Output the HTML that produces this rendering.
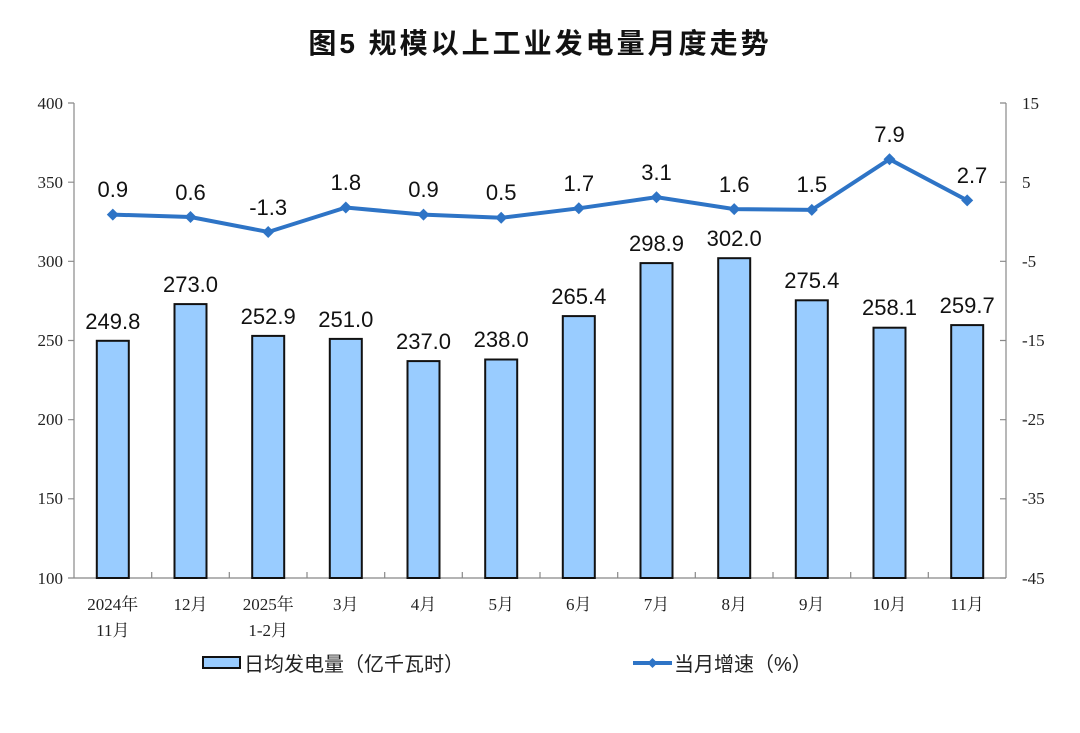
<!DOCTYPE html>
<html><head><meta charset="utf-8"><style>body{margin:0;background:#fff}</style></head><body>
<svg width="1080" height="728" xmlns="http://www.w3.org/2000/svg">
<rect width="1080" height="728" fill="#fff"/>
<text x="540" y="53" text-anchor="middle" font-family="Liberation Sans,Noto Sans CJK SC,sans-serif" font-size="28" font-weight="bold" letter-spacing="3" fill="#111">图5  规模以上工业发电量月度走势</text>
<g stroke="#888" stroke-width="1.2" fill="none">
<line x1="74" y1="103" x2="74" y2="578"/><line x1="74" y1="578" x2="1006" y2="578"/><line x1="1006" y1="103" x2="1006" y2="578"/>
<path d="M68 103H74M68 182.2H74M68 261.3H74M68 340.5H74M68 419.7H74M68 498.8H74M68 578H74"/>
<path d="M1000 103H1006M1000 182.2H1006M1000 261.3H1006M1000 340.5H1006M1000 419.7H1006M1000 498.8H1006M1000 578H1006"/>
<path d="M151.7 578V572M229.3 578V572M307 578V572M384.7 578V572M462.3 578V572M540 578V572M617.7 578V572M695.3 578V572M773 578V572M850.7 578V572M928.3 578V572"/>
</g>
<g font-family="Liberation Serif,serif" font-size="17" fill="#222" text-anchor="end">
<text x="63" y="109">400</text><text x="63" y="188">350</text><text x="63" y="267">300</text><text x="63" y="346">250</text><text x="63" y="425">200</text><text x="63" y="504">150</text><text x="63" y="584">100</text>
</g>
<g font-family="Liberation Serif,serif" font-size="17" fill="#222">
<text x="1022" y="109">15</text><text x="1022" y="188">5</text><text x="1022" y="267">-5</text><text x="1022" y="346">-15</text><text x="1022" y="425">-25</text><text x="1022" y="504">-35</text><text x="1022" y="584">-45</text>
</g>
<g fill="#99ccff" stroke="#111" stroke-width="2">
<rect x="96.8" y="340.8" width="32" height="237.2"/>
<rect x="174.5" y="304.1" width="32" height="273.9"/>
<rect x="252.2" y="335.9" width="32" height="242.1"/>
<rect x="329.8" y="338.9" width="32" height="239.1"/>
<rect x="407.5" y="361.1" width="32" height="216.9"/>
<rect x="485.2" y="359.5" width="32" height="218.5"/>
<rect x="562.8" y="316.1" width="32" height="261.9"/>
<rect x="640.5" y="263.1" width="32" height="314.9"/>
<rect x="718.2" y="258.2" width="32" height="319.8"/>
<rect x="795.8" y="300.3" width="32" height="277.7"/>
<rect x="873.5" y="327.7" width="32" height="250.3"/>
<rect x="951.2" y="325.1" width="32" height="252.9"/>
</g>
<g font-family="Liberation Sans,sans-serif" font-size="22" fill="#111" text-anchor="middle">
<text x="112.8" y="329">249.8</text><text x="190.5" y="292">273.0</text><text x="268.2" y="324">252.9</text><text x="345.8" y="327">251.0</text><text x="423.5" y="349">237.0</text><text x="501.2" y="347">238.0</text><text x="578.8" y="304">265.4</text><text x="656.5" y="251">298.9</text><text x="734.2" y="246">302.0</text><text x="811.8" y="288">275.4</text><text x="889.5" y="315">258.1</text><text x="967.2" y="313">259.7</text>
</g>
<polyline fill="none" stroke="#2e74c6" stroke-width="4" points="112.8,214.6 190.5,217 268.2,232 345.8,207.5 423.5,214.6 501.2,217.8 578.8,208.3 656.5,197.2 734.2,209.1 811.8,209.9 889.5,159.2 967.2,200.4"/>
<g fill="#2e74c6">
<path d="M112.8 208.6l6 6-6 6-6-6z"/><path d="M190.5 211l6 6-6 6-6-6z"/><path d="M268.2 226l6 6-6 6-6-6z"/><path d="M345.8 201.5l6 6-6 6-6-6z"/><path d="M423.5 208.6l6 6-6 6-6-6z"/><path d="M501.2 211.8l6 6-6 6-6-6z"/><path d="M578.8 202.3l6 6-6 6-6-6z"/><path d="M656.5 191.2l6 6-6 6-6-6z"/><path d="M734.2 203.1l6 6-6 6-6-6z"/><path d="M811.8 203.9l6 6-6 6-6-6z"/><path d="M889.5 153.2l6 6-6 6-6-6z"/><path d="M967.2 194.4l6 6-6 6-6-6z"/>
</g>
<g font-family="Liberation Sans,sans-serif" font-size="22" fill="#111" text-anchor="middle">
<text x="112.8" y="197">0.9</text><text x="190.5" y="200">0.6</text><text x="268.2" y="215">-1.3</text><text x="345.8" y="190">1.8</text><text x="423.5" y="197">0.9</text><text x="501.2" y="200">0.5</text><text x="578.8" y="191">1.7</text><text x="656.5" y="180">3.1</text><text x="734.2" y="192">1.6</text><text x="811.8" y="192">1.5</text><text x="889.5" y="142">7.9</text><text x="972" y="183">2.7</text>
</g>
<g font-family="Liberation Serif,Noto Serif CJK SC,serif" font-size="17" fill="#222" text-anchor="middle">
<text x="112.8" y="610">2024年</text><text x="112.8" y="636">11月</text>
<text x="190.5" y="610">12月</text>
<text x="268.2" y="610">2025年</text><text x="268.2" y="636">1-2月</text>
<text x="345.8" y="610">3月</text><text x="423.5" y="610">4月</text><text x="501.2" y="610">5月</text><text x="578.8" y="610">6月</text><text x="656.5" y="610">7月</text><text x="734.2" y="610">8月</text><text x="811.8" y="610">9月</text><text x="889.5" y="610">10月</text><text x="967.2" y="610">11月</text>
</g>
<rect x="203" y="657" width="37" height="11" fill="#99ccff" stroke="#111" stroke-width="2"/>
<text x="244" y="671" font-family="Liberation Sans,Noto Sans CJK SC,sans-serif" font-size="20" fill="#222">日均发电量（亿千瓦时）</text>
<line x1="633" y1="663" x2="672" y2="663" stroke="#2e74c6" stroke-width="4"/>
<path d="M652.5 658l5 5-5 5-5-5z" fill="#2e74c6"/>
<text x="674" y="671" font-family="Liberation Sans,Noto Sans CJK SC,sans-serif" font-size="20" fill="#222">当月增速（%）</text>
</svg>
</body></html>
